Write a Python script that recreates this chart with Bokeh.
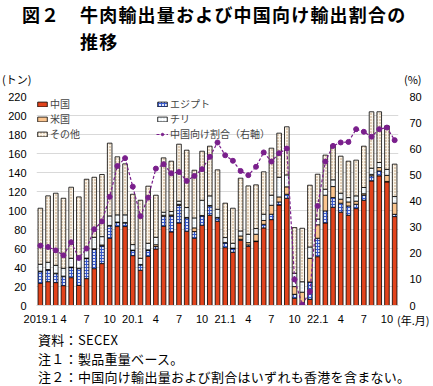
from bokeh.plotting import figure
from bokeh.models import (ColumnDataSource, Range1d, LinearAxis, FixedTicker,
                          Legend, LegendItem, Div)
from bokeh.layouts import column
from bokeh.embed import file_html
from bokeh.resources import INLINE

# ---- data (tons / %) 2019.1 - 2022.11 ----
months = ["2019.1", "2019.2", "2019.3", "2019.4", "2019.5", "2019.6", "2019.7", "2019.8",
          "2019.9", "2019.10", "2019.11", "2019.12",
          "2020.1", "2020.2", "2020.3", "2020.4", "2020.5", "2020.6", "2020.7", "2020.8",
          "2020.9", "2020.10", "2020.11", "2020.12",
          "2021.1", "2021.2", "2021.3", "2021.4", "2021.5", "2021.6", "2021.7", "2021.8",
          "2021.9", "2021.10", "2021.11", "2021.12",
          "2022.1", "2022.2", "2022.3", "2022.4", "2022.5", "2022.6", "2022.7", "2022.8",
          "2022.9", "2022.10", "2022.11"]

china = [23.4, 25.1, 24.1, 20.9, 29.3, 21.2, 28.3, 38.8, 44.1, 70.8, 83.1, 83.1,
         52.5, 37.1, 51.8, 59.5, 83.4, 77.5, 86.9, 78.2, 70.8, 84.5, 95.0, 88.7,
         60.9, 56.0, 68.7, 62.3, 67.3, 81.7, 90.4, 105.8, 112.9, 7.6, 0.3, 6.5,
         51.4, 86.9, 103.4, 98.2, 95.0, 102.0, 110.8, 131.2, 136.5, 130.1, 93.6]
egypt = [12.2, 12.3, 9.4, 9.5, 10.6, 17.6, 21.1, 20.4, 18.6, 13.0, 4.2, 3.8,
         5.3, 5.6, 6.3, 2.5, 10.6, 16.8, 18.6, 14.0, 7.0, 9.8, 9.8, 3.5,
         5.0, 3.9, 1.0, 1.5, 0.5, 3.8, 5.7, 3.2, 4.2, 4.2, 0.5, 18.3,
         19.4, 12.7, 10.2, 9.5, 9.8, 4.6, 5.3, 5.3, 5.2, 0.5, 2.4]
usa = [0.5, 0.5, 0.5, 0.5, 0.5, 0.5, 0.5, 0.5, 1.0, 0.5, 0.5, 0.5,
       0.5, 0.5, 0.5, 2.0, 1.0, 1.0, 1.0, 0.5, 3.9, 0.5, 0.5, 0.5,
       0.5, 0.5, 3.5, 2.4, 7.2, 4.0, 9.4, 5.3, 7.8, 8.1, 13.2, 24.9,
       14.2, 16.5, 11.6, 4.2, 4.2, 3.2, 1.5, 1.5, 3.5, 6.4, 11.7]
chile = [7.3, 7.6, 8.3, 8.3, 9.3, 9.3, 8.9, 12.1, 8.8, 10.0, 7.6, 8.0,
         5.8, 6.5, 6.9, 7.8, 3.2, 3.6, 3.3, 10.4, 10.5, 16.0, 10.1, 8.6,
         5.1, 5.1, 5.3, 8.8, 6.0, 6.6, 10.6, 20.7, 12.6, 14.0, 11.0, 11.9,
         6.0, 6.3, 7.1, 6.3, 4.6, 5.6, 6.6, 6.5, 5.3, 6.3, 7.0]
other = [59.0, 69.9, 75.9, 73.7, 74.8, 65.7, 74.1, 63.2, 65.4, 76.6, 61.1, 53.7,
         53.0, 61.1, 60.1, 44.3, 57.2, 53.0, 60.0, 60.4, 50.2, 51.6, 52.3, 41.5,
         36.2, 36.9, 55.5, 50.9, 46.0, 44.6, 49.5, 46.4, 50.6, 48.1, 56.3, 65.0,
         47.2, 35.9, 36.5, 39.0, 38.3, 37.6, 43.5, 59.4, 53.4, 45.8, 34.1]
share = [22.9, 22.4, 21.1, 19.2, 24.2, 18.2, 21.8, 29.2, 32.2, 41.6, 53.4, 56.4,
         45.5, 34.2, 41.3, 52.4, 54.1, 50.6, 51.1, 47.7, 49.6, 52.2, 56.9, 62.4,
         57.5, 55.4, 51.5, 49.9, 53.1, 58.6, 55.1, 58.3, 60.1, 10.0, 0.3, 5.3,
         38.1, 55.1, 61.1, 62.4, 62.6, 67.5, 66.5, 64.6, 67.5, 68.1, 63.3]

tick_months = ["2019.1", "2019.4", "2019.7", "2019.10", "2020.1", "2020.4", "2020.7", "2020.10",
               "2021.1", "2021.4", "2021.7", "2021.10", "2022.1", "2022.4", "2022.7", "2022.10"]
tick_labels = ["2019.1", "4", "7", "10", "20.1", "4", "7", "10",
               "21.1", "4", "7", "10", "22.1", "4", "7", "10"]

series_names = ["中国", "エジプト", "米国", "チリ", "その他"]
line_name = "中国向け割合（右軸）"
left_ticks = [0, 20, 40, 60, 80, 100, 120, 140, 160, 180, 200, 220]
right_ticks = [0, 10, 20, 30, 40, 50, 60, 70, 80]

title_head = "図２"
title_line1 = "牛肉輸出量および中国向け輸出割合の"
title_line2 = "推移"
unit_left = "(トン)"
unit_right = "(%)"
unit_x = "(年.月)"
notes = ["資料：SECEX", "注１：製品重量ベース。",
         "注２：中国向け輸出量および割合はいずれも香港を含まない。"]

# ---- build ----
N = len(months)
idx = list(range(N))
src = ColumnDataSource(dict(x=idx, china=china, egypt=egypt, usa=usa, chile=chile,
                            other=other, share=share))

JP = "Noto Sans CJK JP"
NUM = "Liberation Sans"

W = 433
TOP_H = 88
FIG_H = 240
BOT_H = 386 - TOP_H - FIG_H

p = figure(width=W, height=FIG_H, output_backend="svg", toolbar_location=None,
           x_range=Range1d(-0.5, N - 0.5), y_range=Range1d(0, 220),
           min_border_left=36, min_border_right=35, min_border_top=8, min_border_bottom=23)
p.outline_line_color = None
p.background_fill_color = "white"
p.border_fill_color = "white"
p.extra_y_ranges = {"pct": Range1d(0, 80)}

bars = p.vbar_stack(["china", "egypt", "usa", "chile", "other"], x="x", width=0.6, source=src,
                    fill_color=["#e2431c", "#dfe6fa", "#fbc58f", "#ffffff", "#fbf5ea"],
                    hatch_pattern=[" ", "cross", " ", "dot", "dot"],
                    hatch_color=["#e2431c", "#3a5bd0", "#fbc58f", "#c4d8e6", "#b8936a"],
                    hatch_scale=3, hatch_weight=1,
                    line_color="black", line_width=0.8)

ln = p.line("x", "share", source=src, y_range_name="pct", line_color="#7a1f8c",
            line_width=1.2, line_dash="3 2")
pts = p.scatter("x", "share", source=src, y_range_name="pct", size=5,
                fill_color="#7a1f8c", line_color="#7a1f8c")

# axes
def style_axis(ax, standoff):
    ax.axis_line_color = None
    ax.major_tick_line_color = None
    ax.minor_tick_line_color = None
    ax.major_tick_out = 0
    ax.major_tick_in = 0
    ax.minor_tick_out = 0
    ax.major_label_text_font = NUM
    ax.major_label_text_font_size = "11px"
    ax.major_label_text_color = "black"
    ax.major_label_standoff = standoff


p.yaxis.ticker = FixedTicker(ticks=left_ticks)
style_axis(p.yaxis[0], 10)

rax = LinearAxis(y_range_name="pct", ticker=FixedTicker(ticks=right_ticks))
style_axis(rax, 11)
p.add_layout(rax, "right")

tick_pos = [months.index(m) for m in tick_months]
p.xaxis.ticker = FixedTicker(ticks=tick_pos)
p.xaxis.major_label_overrides = {t: l for t, l in zip(tick_pos, tick_labels)}
style_axis(p.xaxis[0], 9)
p.xaxis.axis_line_color = "#d9d9d9"

p.xgrid.grid_line_color = None
p.ygrid.grid_line_color = "#d9d9d9"
p.ygrid.grid_line_width = 1

# legends
def mk_legend(items, loc):
    return Legend(items=items, location=loc, orientation="vertical",
                  label_text_font=JP, label_text_font_size="10px",
                  label_height=14, glyph_height=6, glyph_width=12, label_standoff=2,
                  spacing=0, padding=0, margin=0,
                  border_line_color=None, background_fill_alpha=0)


left_items = [LegendItem(label=series_names[0], renderers=[bars[0]]),
              LegendItem(label=series_names[2], renderers=[bars[2]]),
              LegendItem(label=series_names[4], renderers=[bars[4]])]
right_items = [LegendItem(label=series_names[1], renderers=[bars[1]]),
               LegendItem(label=series_names[3], renderers=[bars[3]]),
               LegendItem(label=line_name, renderers=[ln, pts])]
p.add_layout(mk_legend(left_items, "top_left"), "center")
p.add_layout(mk_legend(right_items, (120, 164)), "center")

# ---- text blocks (HTML) ----
def span(text, left, center, size, bold=False, extra=""):
    top = center - size / 2
    return (f'<div style="position:absolute;left:{left}px;top:{top}px;font-size:{size}px;'
            f'line-height:{size}px;white-space:nowrap;font-weight:{"bold" if bold else "normal"};'
            f'{extra}">{text}</div>')


def block(inner, h):
    return (f'<div style="position:relative;width:{W}px;height:{h}px;font-family:\'{JP}\';'
            f'color:black;">{inner}</div>')


top_html = block(
    span(title_head, 22, 13.5, 18, True, "letter-spacing:1px;")
    + span(title_line1, 80, 13.5, 18, True, "letter-spacing:1.2px;")
    + span(title_line2, 80, 40.5, 18, True, "letter-spacing:1.2px;")
    + span(unit_left, 2, 79, 11)
    + span(unit_right, 404, 79, 11),
    TOP_H)

fb = TOP_H + FIG_H
bot_html = block(
    span(unit_x, 397, 320 - fb, 11)
    + span(notes[0], 38, 339 - fb, 13, False, "letter-spacing:0.3px;")
    + span(notes[1], 38, 358 - fb, 13, False, "letter-spacing:0.3px;")
    + span(notes[2], 38, 376 - fb, 13, False, "letter-spacing:0.3px;"),
    BOT_H)

top_div = Div(text=top_html, width=W, height=TOP_H, margin=(0, 0, 0, 0),
              styles={"overflow": "visible"})
bot_div = Div(text=bot_html, width=W, height=BOT_H, margin=(0, 0, 0, 0),
              styles={"overflow": "visible"})

layout = column(top_div, p, bot_div, spacing=0)

open("out.html", "w").write(file_html(layout, INLINE))
